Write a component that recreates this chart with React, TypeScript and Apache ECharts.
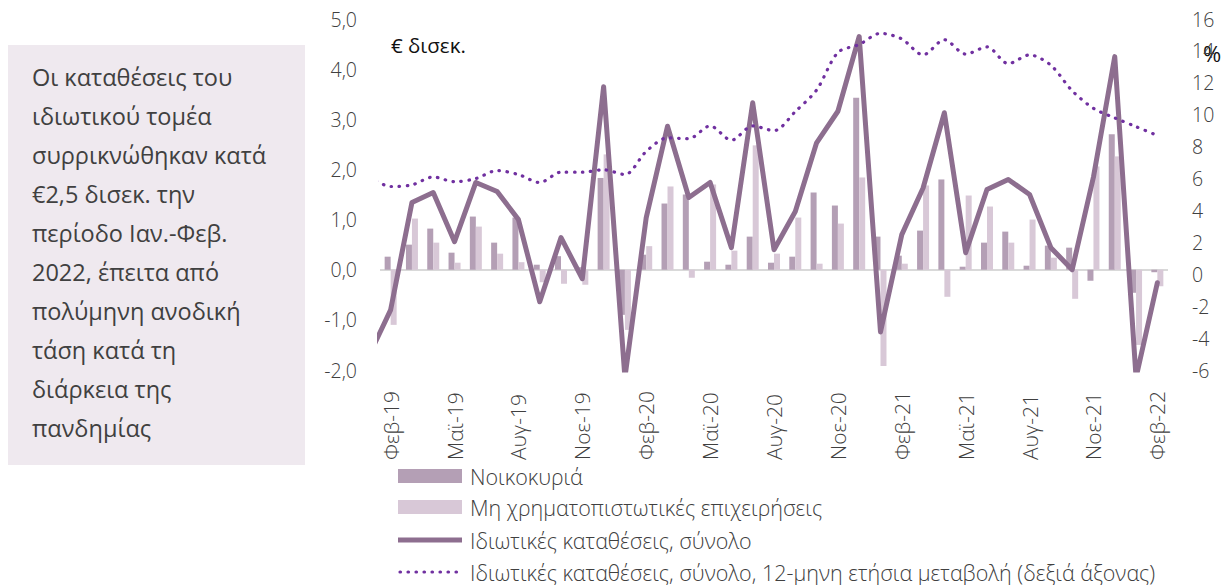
import React, { useEffect, useRef } from "react";
import * as echarts from "echarts";

// Months for the lines (they start one month before the visible axis and are clipped)
const lineMonths = [
  "Ιαν-19", "Φεβ-19", "Μαρ-19", "Απρ-19", "Μαϊ-19", "Ιουν-19", "Ιουλ-19", "Αυγ-19", "Σεπ-19", "Οκτ-19", "Νοε-19", "Δεκ-19",
  "Ιαν-20", "Φεβ-20", "Μαρ-20", "Απρ-20", "Μαϊ-20", "Ιουν-20", "Ιουλ-20", "Αυγ-20", "Σεπ-20", "Οκτ-20", "Νοε-20", "Δεκ-20",
  "Ιαν-21", "Φεβ-21", "Μαρ-21", "Απρ-21", "Μαϊ-21", "Ιουν-21", "Ιουλ-21", "Αυγ-21", "Σεπ-21", "Οκτ-21", "Νοε-21", "Δεκ-21",
  "Ιαν-22", "Φεβ-22",
];
// Categories on the visible axis: Φεβ-19 .. Φεβ-22
const categories = lineMonths.slice(1);

// € bn, monthly flows (Φεβ-19 .. Φεβ-22)
const households = [
  0.26, 0.5, 0.82, 0.34, 1.06, 0.54, 1.04, 0.1, 0.27, 0.05, 1.83,
  -0.9, 0.3, 1.32, 1.5, 0.16, 0.1, 0.66, 0.14, 0.26, 1.54, 1.28, 3.43,
  0.66, 0.28, 0.78, 1.8, 0.06, 0.54, 0.76, 0.08, 0.48, 0.44, -0.22, 2.7,
  -0.46, -0.05,
];
const nonFinancialCorps = [
  -1.1, 1.02, 0.54, 0.14, 0.86, 0.32, 0.15, -0.25, -0.28, -0.3, 2.3,
  -1.2, 0.47, 1.66, -0.16, 1.7, 0.38, 2.48, 0.32, 1.04, 0.12, 0.92, 1.84,
  -1.92, 0.12, 1.68, -0.54, 1.48, 1.26, 0.54, 1.0, 0.24, -0.58, 2.06, 2.26,
  -1.5, -0.33,
];
// € bn, total private deposits (Ιαν-19 .. Φεβ-22)
const totalDeposits = [
  -1.7, -0.8, 1.34, 1.54, 0.56, 1.74, 1.56, 1.0, -0.64, 0.64, -0.18, 3.65,
  -2.15, 1.04, 2.86, 1.44, 1.74, 0.44, 3.33, 0.4, 1.16, 2.53, 3.16, 4.65,
  -1.24, 0.7, 1.63, 3.13, 0.34, 1.6, 1.8, 1.5, 0.44, 0.0, 1.85, 4.25,
  -2.15, -0.26,
];
// %, 12-month annual change (Ιαν-19 .. Φεβ-22)
const annualChange = [
  6.1, 5.5, 5.6, 6.1, 5.8, 6.0, 6.5, 6.25, 5.75, 6.4, 6.4, 6.55,
  6.25, 7.7, 8.55, 8.5, 9.3, 8.4, 9.3, 9.0, 10.2, 11.55, 13.9, 14.4,
  15.1, 14.75, 13.75, 14.7, 13.8, 14.25, 13.2, 13.75, 13.1, 11.5, 10.4, 9.8,
  9.25, 8.7,
];

const seriesNames = [
  "Νοικοκυριά",
  "Μη χρηματοπιστωτικές επιχειρήσεις",
  "Ιδιωτικές καταθέσεις, σύνολο",
  "Ιδιωτικές καταθέσεις, σύνολο, 12-μηνη ετήσια μεταβολή (δεξιά άξονας)",
];

const boxText = [
  "Οι καταθέσεις του",
  "ιδιωτικού τομέα",
  "συρρικνώθηκαν κατά",
  "€2,5 δισεκ. την",
  "περίοδο Ιαν.-Φεβ.",
  "2022, έπειτα από",
  "πολύμηνη ανοδική",
  "τάση κατά τη",
  "διάρκεια της",
  "πανδημίας",
];

const FONT = '"Open Sans", "Noto Sans", sans-serif';
const C_HH = "#b49fb5";
const C_NFC = "#d8c8d7";
const C_TOTAL = "#8d6e8f";
const C_ANNUAL = "#7030a0";

export default function App() {
  const ref = useRef<HTMLDivElement>(null);

  useEffect(() => {
    document.body.style.margin = "0";
    const chart = echarts.init(ref.current!, null, { renderer: "svg" });
    const grid = { left: 380, right: 59, top: 19, bottom: 215 };

    const legendYs = [476, 507, 540, 572];
    const legendX = 398;
    const legendW = 64;
    const legendGraphics: any[] = [
      {
        type: "rect",
        shape: { x: legendX, y: legendYs[0] - 7, width: legendW, height: 14 },
        style: { fill: C_HH },
      },
      {
        type: "rect",
        shape: { x: legendX, y: legendYs[1] - 7, width: legendW, height: 14 },
        style: { fill: C_NFC },
      },
      {
        type: "line",
        shape: { x1: legendX, y1: legendYs[2], x2: legendX + legendW, y2: legendYs[2] },
        style: { stroke: C_TOTAL, lineWidth: 5 },
      },
      {
        type: "line",
        shape: { x1: legendX + 2, y1: legendYs[3], x2: legendX + legendW, y2: legendYs[3] },
        style: { stroke: C_ANNUAL, lineWidth: 3.2, lineDash: [0.5, 7.5], lineCap: "round" },
      },
      ...seriesNames.map((name, i) => ({
        type: "text",
        x: 470,
        y: legendYs[i],
        style: {
          text: name,
          font: `300 21.5px ${FONT}`,
          fill: "#404040",
          verticalAlign: "middle",
        },
      })),
    ];

    chart.setOption({
      animation: false,
      backgroundColor: "#ffffff",
      textStyle: { fontFamily: FONT },
      grid,
      xAxis: [
        {
          type: "category",
          data: categories,
          boundaryGap: true,
          axisLine: { show: false },
          axisTick: { show: false },
          axisLabel: {
            interval: 2,
            rotate: 90,
            align: "left",
            verticalAlign: "middle",
            margin: 90,
            padding: [16, 0, 0, 0],
            fontSize: 21,
            color: "#404040",
            fontFamily: FONT,
            fontWeight: 300,
          },
          splitLine: { show: false },
        },
        {
          type: "value",
          min: -0.5,
          max: categories.length - 0.5,
          show: false,
        },
      ],
      yAxis: [
        {
          type: "value",
          min: -2,
          max: 5,
          interval: 1,
          axisLine: { show: false },
          axisTick: { show: false },
          splitLine: { show: false },
          axisLabel: {
            margin: 23,
            fontSize: 19.5,
            color: "#404040",
            fontFamily: FONT,
            fontWeight: 300,
            formatter: (v: number) => v.toFixed(1).replace(".", ","),
          },
        },
        {
          type: "value",
          min: -6,
          max: 16,
          interval: 2,
          position: "right",
          axisLine: { show: false },
          axisTick: { show: false },
          splitLine: { show: false },
          axisLabel: {
            margin: 24,
            fontSize: 19.5,
            color: "#404040",
            fontFamily: FONT,
            fontWeight: 300,
          },
        },
      ],
      series: [
        {
          name: seriesNames[0],
          type: "bar",
          xAxisIndex: 0,
          yAxisIndex: 0,
          data: households,
          barWidth: 6,
          barGap: "0%",
          itemStyle: { color: C_HH },
          markLine: {
            silent: true,
            symbol: "none",
            label: { show: false },
            lineStyle: { color: "#d9d9d9", width: 2, type: "solid" },
            data: [{ yAxis: 0 }],
            z: 1,
          },
        },
        {
          name: seriesNames[1],
          type: "bar",
          xAxisIndex: 0,
          yAxisIndex: 0,
          data: nonFinancialCorps,
          barWidth: 6,
          barGap: "0%",
          itemStyle: { color: C_NFC },
        },
        {
          name: seriesNames[2],
          type: "line",
          xAxisIndex: 1,
          yAxisIndex: 0,
          data: totalDeposits.map((v, i) => [i - 1, v]),
          symbol: "none",
          clip: true,
          lineStyle: { color: C_TOTAL, width: 5, join: "round", cap: "round" },
          itemStyle: { color: C_TOTAL },
          z: 3,
        },
        {
          name: seriesNames[3],
          type: "line",
          xAxisIndex: 1,
          yAxisIndex: 1,
          data: annualChange.map((v, i) => [i - 1, v]),
          symbol: "none",
          smooth: 0.3,
          clip: true,
          lineStyle: { color: C_ANNUAL, width: 3.2, type: [0.5, 7.5], cap: "round" },
          itemStyle: { color: C_ANNUAL },
          z: 4,
        },
      ],
      graphic: [
        {
          type: "rect",
          shape: { x: 8, y: 45, width: 297, height: 420 },
          style: { fill: "#efe9ef" },
          silent: true,
        },
        {
          type: "text",
          x: 32,
          y: 57,
          style: {
            text: boxText.join("\n"),
            font: `23.5px ${FONT}`,
            fill: "#404040",
            lineHeight: 39,
            verticalAlign: "top",
          },
        },
        {
          type: "text",
          x: 391,
          y: 34,
          style: {
            text: "€ δισεκ.",
            font: `20.5px ${FONT}`,
            fill: "#111111",
            verticalAlign: "top",
          },
        },
        {
          type: "text",
          x: 1203,
          y: 42,
          style: {
            text: "%",
            font: `22px ${FONT}`,
            fill: "#111111",
            verticalAlign: "top",
          },
        },
        ...legendGraphics,
      ],
    });
    return () => chart.dispose();
  }, []);

  return (
    <div
      ref={ref}
      style={{ position: "absolute", left: 0, top: 0, width: 1227, height: 585 }}
    />
  );
}
